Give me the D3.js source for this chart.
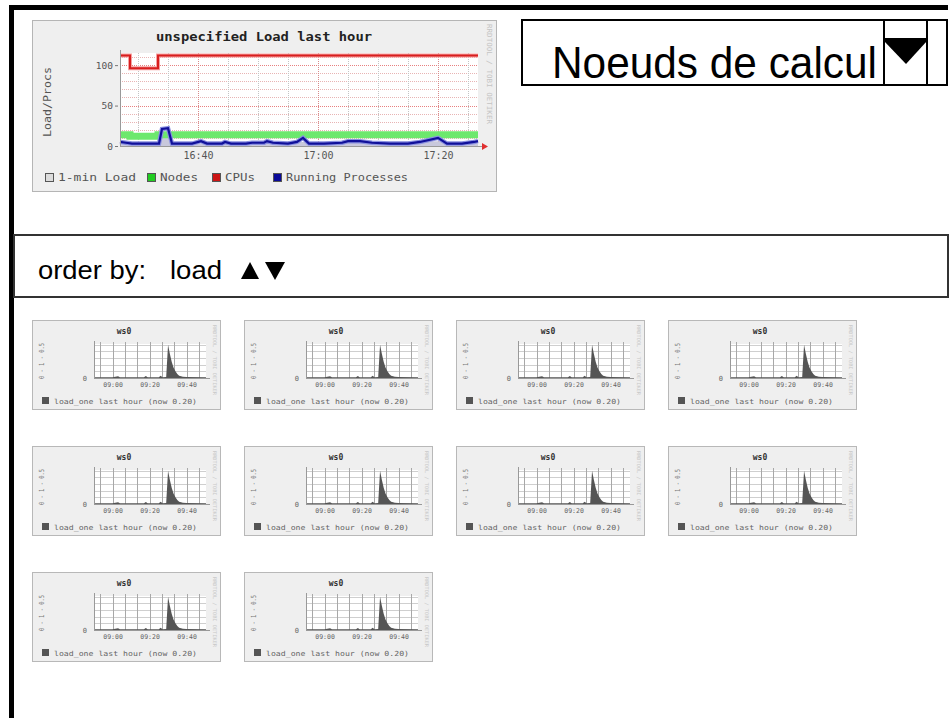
<!DOCTYPE html>
<meta charset="utf-8">
<style>
body { margin: 0; background: #fff; }
svg { display: block; }
</style>
<body>
<script src="https://cdn.jsdelivr.net/npm/d3@7"></script>
<script>

const parseTime = d3.timeParse("%H:%M:%S");
const t = s => parseTime(s.length === 5 ? s + ":00" : s);

const MONO = "DejaVu Sans Mono, monospace";
const SANS = "Liberation Sans, Arial, sans-serif";

// ---- cluster graph (last hour) ----
const mainTitle = "unspecified Load last hour";
const mainXTicks = ["16:40", "17:00", "17:20"];
const mainYTicks = [0, 50, 100];

const cpusTimes = ["16:27", "16:28:40", "16:33:20", "17:26:40"];
const cpusValues = [112, 96, 112, 112];

const nodesTimes = ["16:27", "16:28:40", "16:33:20", "17:26:40"];
const nodesValues = [14, 12, 14, 14];

const procsTimes = ["16:27", "16:28", "16:29", "16:33:30", "16:34", "16:35", "16:35:40",
  "16:39", "16:40:30", "16:41:30", "16:44", "16:44:30", "16:45:30", "16:48", "16:49",
  "16:51", "16:51:30", "16:52:30", "16:55", "16:56:30", "16:57:30", "16:58:30", "17:01",
  "17:04", "17:05", "17:07", "17:09", "17:12", "17:15", "17:17", "17:20", "17:21:30",
  "17:24", "17:26", "17:26:40"];
const procsValues = [5, 4, 3, 3, 21, 22, 3,
  3, 6, 3, 3, 5, 3, 3, 4,
  4, 6, 4, 3, 5, 10, 3, 3,
  4, 6, 6, 4, 3, 3, 5, 10, 3,
  3, 5, 6];

const loadTimes = ["16:27", "16:33:30", "16:34", "16:35", "16:35:40", "16:57:30", "17:20", "17:26:40"];
const loadValues = [2, 2, 17, 18, 2, 5, 6, 3];

const legendNames = ["1-min Load", "Nodes", "CPUs", "Running Processes"];
const legendColors = ["#dcdcdc", "#22cc22", "#cc1515", "#0a0a99"];

// ---- per-host graphs ----
const hostNames = ["ws0", "ws0", "ws0", "ws0", "ws0", "ws0", "ws0", "ws0", "ws0", "ws0"];
const hostXTicks = ["09:00", "09:20", "09:40"];
const hostTimes = ["08:50", "09:00", "09:03", "09:04", "09:17", "09:18", "09:19", "09:25",
  "09:26", "09:27", "09:29", "09:30", "09:31", "09:32", "09:33", "09:34", "09:35", "09:36",
  "09:38", "09:40", "09:50:30"];
const hostLoad = [0.02, 0.02, 0.05, 0.02, 0.02, 0.06, 0.02, 0.02,
  0.07, 0.02, 0.03, 1.0, 0.72, 0.48, 0.31, 0.2, 0.12, 0.07,
  0.04, 0.03, 0.02];
const hostLegend = "load_one last hour (now 0.20)";

const svg = d3.select("body").append("svg")
    .attr("width", 951)
    .attr("height", 718);

// page frame (black edges of the screenshot)
svg.append("rect").attr("x", 9).attr("y", 5).attr("width", 939).attr("height", 5).attr("fill", "#000");
svg.append("rect").attr("x", 9).attr("y", 5).attr("width", 5).attr("height", 713).attr("fill", "#000");

// ================= main graph =================
const mg = svg.append("g");

mg.append("rect")
    .attr("x", 32.5).attr("y", 20.5)
    .attr("width", 464).attr("height", 171)
    .attr("fill", "#efefef")
    .attr("stroke", "#b5b5b5");

const x = d3.scaleTime()
    .domain([t("16:27"), t("17:26:40")])
    .range([120, 478]);

const y = d3.scaleLinear()
    .domain([0, 115])
    .range([146, 53]);

mg.append("rect")
    .attr("x", 120).attr("y", 53)
    .attr("width", 358).attr("height", 93)
    .attr("fill", "#fff");

// horizontal grid
mg.append("g").selectAll("line")
  .data(y.ticks(12).filter(d => d > 0))
  .join("line")
    .attr("x1", 120).attr("x2", 478)
    .attr("y1", d => Math.round(y(d)) + 0.5)
    .attr("y2", d => Math.round(y(d)) + 0.5)
    .attr("stroke", d => mainYTicks.includes(d) ? "#e88080" : "#e8b4b4")
    .attr("stroke-dasharray", "1,1");

// vertical grid
const majorX = mainXTicks.map(s => +t(s));
mg.append("g").selectAll("line")
  .data(x.ticks(d3.timeMinute.every(5)))
  .join("line")
    .attr("x1", d => Math.round(x(d)) + 0.5)
    .attr("x2", d => Math.round(x(d)) + 0.5)
    .attr("y1", 53).attr("y2", 146)
    .attr("stroke", d => majorX.includes(+d) ? "#d88a8a" : "#c4c4c4")
    .attr("stroke-dasharray", "1,1");

// series
const area = d3.area()
    .x(d => x(d.t))
    .y0(y(0))
    .y1(d => y(d.v));

const line = d3.line()
    .x(d => x(d.t))
    .y(d => y(d.v));

const zipSeries = (times, values) => times.map((s, i) => ({t: t(s), v: values[i]}));

mg.append("path")
    .datum(zipSeries(loadTimes, loadValues))
    .attr("d", area)
    .attr("fill", "#c8c8dc");

mg.append("path")
    .datum(zipSeries(nodesTimes, nodesValues))
    .attr("d", line.curve(d3.curveStepAfter))
    .attr("fill", "none")
    .attr("stroke", "#6de86d")
    .attr("stroke-width", 7);

mg.append("path")
    .datum(zipSeries(cpusTimes, cpusValues))
    .attr("d", line.curve(d3.curveStepAfter))
    .attr("fill", "none")
    .attr("stroke", "#f5a0a0")
    .attr("stroke-width", 4);

mg.append("path")
    .datum(zipSeries(cpusTimes, cpusValues))
    .attr("d", line.curve(d3.curveStepAfter))
    .attr("fill", "none")
    .attr("stroke", "#d81e1e")
    .attr("stroke-width", 2);

mg.append("path")
    .datum(zipSeries(procsTimes, procsValues))
    .attr("d", line.curve(d3.curveLinear))
    .attr("fill", "none")
    .attr("stroke", "#8a90e0")
    .attr("stroke-width", 4.5);

mg.append("path")
    .datum(zipSeries(procsTimes, procsValues))
    .attr("d", line.curve(d3.curveLinear))
    .attr("fill", "none")
    .attr("stroke", "#10109a")
    .attr("stroke-width", 2.2);

// axis lines + arrow
mg.append("line").attr("x1", 120.5).attr("x2", 120.5).attr("y1", 50).attr("y2", 146).attr("stroke", "#999");
mg.append("line").attr("x1", 120).attr("x2", 483).attr("y1", 146.5).attr("y2", 146.5).attr("stroke", "#999");
mg.append("path").attr("d", "M482,143L488,146.5L482,150Z").attr("fill", "#e03030");

// axes (labels only)
const yAxisG = mg.append("g")
    .attr("transform", "translate(118,0)")
    .call(d3.axisLeft(y).tickValues(mainYTicks).tickSize(3).tickPadding(2));
yAxisG.select(".domain").remove();
yAxisG.attr("font-family", MONO).attr("font-size", 9.5);
yAxisG.selectAll("line").attr("stroke", "#777");
yAxisG.selectAll("text").attr("fill", "#555");

const xAxisG = mg.append("g")
    .attr("transform", "translate(0,146)")
    .call(d3.axisBottom(x).tickValues(mainXTicks.map(t)).tickFormat(d3.timeFormat("%H:%M")).tickSize(0).tickPadding(6));
xAxisG.select(".domain").remove();
xAxisG.attr("font-family", MONO).attr("font-size", 10);
xAxisG.selectAll("text").attr("fill", "#555");

// title
mg.append("text")
    .attr("x", 156).attr("y", 41)
    .attr("font-family", MONO).attr("font-weight", "bold").attr("font-size", 13)
    .attr("textLength", 216).attr("lengthAdjust", "spacingAndGlyphs")
    .attr("fill", "#222")
    .text(mainTitle);

// y title
mg.append("text")
    .attr("transform", "translate(51,102) rotate(-90)")
    .attr("text-anchor", "middle")
    .attr("font-family", MONO).attr("font-size", 10)
    .attr("textLength", 70).attr("lengthAdjust", "spacingAndGlyphs")
    .attr("fill", "#555")
    .text("Load/Procs");

// rrdtool credit
mg.append("text")
    .attr("transform", "translate(487,24) rotate(90)")
    .attr("font-family", MONO).attr("font-size", 7)
    .attr("textLength", 100).attr("lengthAdjust", "spacingAndGlyphs")
    .attr("fill", "#c4c4c4")
    .text("RRDTOOL / TOBI OETIKER");

// legend
const legendX = [45, 147, 212, 273];
const legendLen = [78, 38, 30, 122];
const lg = mg.append("g").selectAll("g")
  .data(legendNames)
  .join("g")
    .attr("transform", (d, i) => `translate(${legendX[i]},173)`);
lg.append("rect")
    .attr("x", 0.5).attr("y", 0.5)
    .attr("width", 8).attr("height", 8)
    .attr("fill", (d, i) => legendColors[i])
    .attr("stroke", "#555");
lg.append("text")
    .attr("x", 13).attr("y", 8)
    .attr("font-family", MONO).attr("font-size", 10.5)
    .attr("textLength", (d, i) => legendLen[i]).attr("lengthAdjust", "spacingAndGlyphs")
    .attr("fill", "#555")
    .text(d => d);

// ================= node group select =================
const sel = svg.append("g");
sel.append("rect")
    .attr("x", 522).attr("y", 20)
    .attr("width", 425).attr("height", 65)
    .attr("fill", "#fff")
    .attr("stroke", "#000").attr("stroke-width", 2);
sel.append("line").attr("x1", 884).attr("x2", 884).attr("y1", 20).attr("y2", 85).attr("stroke", "#000").attr("stroke-width", 2);
sel.append("line").attr("x1", 927).attr("x2", 927).attr("y1", 20).attr("y2", 85).attr("stroke", "#000").attr("stroke-width", 2);
sel.append("path").attr("d", "M884,38L927,38L927,41L906,64L884,41Z").attr("fill", "#000");
sel.append("text")
    .attr("x", 552).attr("y", 78)
    .attr("font-family", SANS).attr("font-size", 44)
    .attr("textLength", 325).attr("lengthAdjust", "spacingAndGlyphs")
    .attr("fill", "#000")
    .text("Noeuds de calcul");

// ================= order by bar =================
const ob = svg.append("g");
ob.append("rect")
    .attr("x", 14).attr("y", 235)
    .attr("width", 934).attr("height", 62)
    .attr("fill", "none")
    .attr("stroke", "#333").attr("stroke-width", 2);
ob.append("text")
    .attr("x", 38).attr("y", 279)
    .attr("font-family", SANS).attr("font-size", 25)
    .attr("textLength", 108).attr("lengthAdjust", "spacingAndGlyphs")
    .text("order by:");
ob.append("text")
    .attr("x", 170).attr("y", 279)
    .attr("font-family", SANS).attr("font-size", 25)
    .attr("textLength", 52).attr("lengthAdjust", "spacingAndGlyphs")
    .text("load");
ob.append("path").attr("d", "M241,279L259,279L250,262Z").attr("fill", "#000");
ob.append("path").attr("d", "M265,262L285,262L275,280Z").attr("fill", "#000");

// ================= host graphs =================
const hx = d3.scaleTime()
    .domain([t("08:50"), t("09:50:30")])
    .range([62, 174]);
const hy = d3.scaleLinear()
    .domain([0, 1.02])
    .range([58, 24]);

const hostSeries = zipSeries(hostTimes, hostLoad);
const hostGrid = d3.range(+t("08:53:20"), +t("09:50:30"), 400000).map(d => new Date(d));

const hostArea = d3.area()
    .x(d => hx(d.t))
    .y0(hy(0))
    .y1(d => hy(d.v));

const hosts = svg.append("g").selectAll("g.host")
  .data(hostNames)
  .join("g")
    .attr("class", "host")
    .attr("transform", (d, i) => `translate(${32 + (i % 4) * 212},${320 + Math.floor(i / 4) * 126})`);

hosts.append("rect")
    .attr("x", 0.5).attr("y", 0.5)
    .attr("width", 188).attr("height", 89)
    .attr("fill", "#efefef")
    .attr("stroke", "#b8b8b8");

hosts.append("rect")
    .attr("x", 62).attr("y", 24)
    .attr("width", 112).attr("height", 34)
    .attr("fill", "#fff");

hosts.each(function() {
  const g = d3.select(this);
  g.append("g").selectAll("line")
    .data(hy.ticks(4).filter(d => d > 0))
    .join("line")
      .attr("x1", 62).attr("x2", 174)
      .attr("y1", d => Math.round(hy(d)) + 0.5).attr("y2", d => Math.round(hy(d)) + 0.5)
      .attr("stroke", "#cfcfcf");
  g.append("g").selectAll("line")
    .data(hostGrid)
    .join("line")
      .attr("x1", d => Math.round(hx(d)) + 0.5).attr("x2", d => Math.round(hx(d)) + 0.5)
      .attr("y1", 22).attr("y2", 58)
      .attr("stroke", "#a8a8a8");
});

hosts.append("path")
    .datum(hostSeries)
    .attr("d", hostArea)
    .attr("fill", "#555");

hosts.append("line").attr("x1", 62).attr("x2", 178).attr("y1", 58.5).attr("y2", 58.5).attr("stroke", "#999");
hosts.append("line").attr("x1", 62.5).attr("x2", 62.5).attr("y1", 21).attr("y2", 58).attr("stroke", "#999");

hosts.append("g")
    .attr("transform", "translate(0,58)")
    .call(d3.axisBottom(hx).tickValues(hostXTicks.map(t)).tickFormat(d3.timeFormat("%H:%M")).tickSize(0).tickPadding(4))
    .call(g => g.select(".domain").remove())
    .attr("font-family", MONO).attr("font-size", 6.5)
    .call(g => g.selectAll("text").attr("fill", "#666"));

hosts.append("text")
    .attr("x", 55).attr("y", 61)
    .attr("text-anchor", "end")
    .attr("font-family", MONO).attr("font-size", 7)
    .attr("fill", "#666")
    .text("0");

hosts.append("text")
    .attr("x", 92).attr("y", 14)
    .attr("text-anchor", "middle")
    .attr("font-family", MONO).attr("font-weight", "bold").attr("font-size", 8)
    .attr("fill", "#333")
    .text(d => d);

hosts.append("text")
    .attr("transform", "translate(12,41) rotate(-90)")
    .attr("text-anchor", "middle")
    .attr("font-family", MONO).attr("font-size", 7)
    .attr("textLength", 36).attr("lengthAdjust", "spacingAndGlyphs")
    .attr("fill", "#777")
    .text("0 - 1 - 0.5");

hosts.append("text")
    .attr("transform", "translate(181,5) rotate(90)")
    .attr("font-family", MONO).attr("font-size", 5)
    .attr("textLength", 70).attr("lengthAdjust", "spacingAndGlyphs")
    .attr("fill", "#c8c8c8")
    .text("RRDTOOL / TOBI OETIKER");

hosts.append("rect")
    .attr("x", 10).attr("y", 77)
    .attr("width", 7).attr("height", 7)
    .attr("fill", "#555");

hosts.append("text")
    .attr("x", 22).attr("y", 83.5)
    .attr("font-family", MONO).attr("font-size", 7)
    .attr("textLength", 143).attr("lengthAdjust", "spacingAndGlyphs")
    .attr("fill", "#666")
    .text(hostLegend);

</script>
